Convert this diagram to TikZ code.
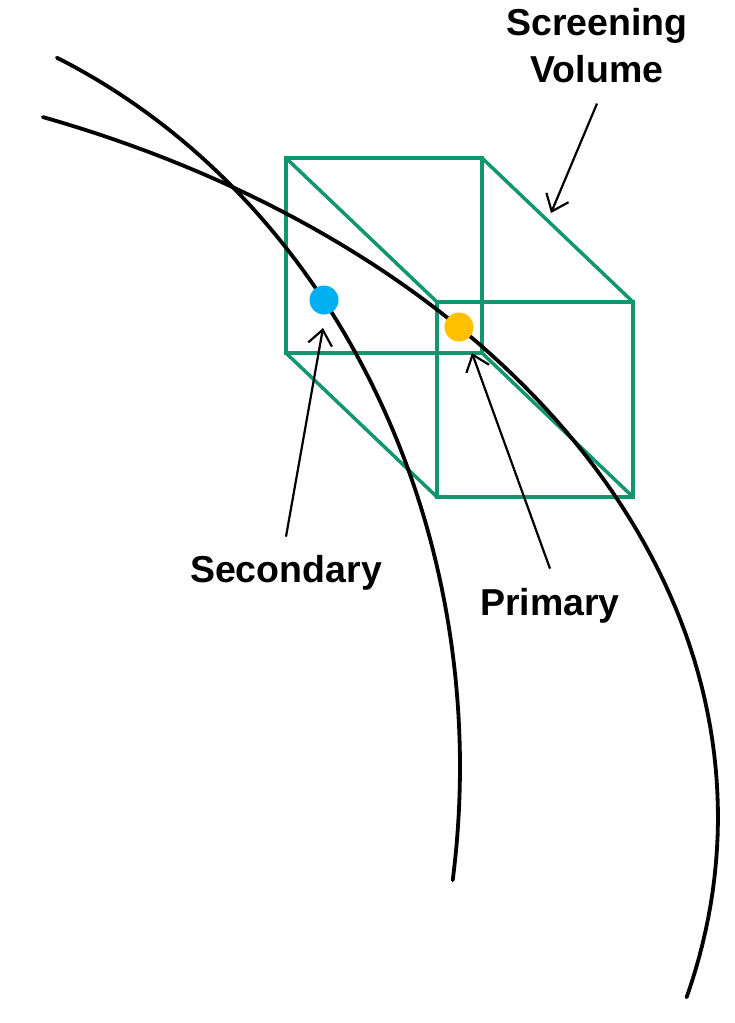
\documentclass[tikz,border=0pt]{standalone}
\usepackage{fontspec}
\setmainfont{Liberation Sans}
\usetikzlibrary{positioning, arrows.meta}
\definecolor{boxgreen}{RGB}{18,150,112}
\definecolor{secblue}{RGB}{0,176,240}
\definecolor{primorange}{RGB}{255,192,0}
\tikzset{
  orbit1/.style = {
    draw = black, line width = 3.8pt, line cap = round,
    variable = \t, samples = 80,
  }
}
\tikzset{
  edge1/.style = {
    draw = boxgreen, line width = 3.5pt, line join = miter,
  }
}
\tikzset{
  dot1/.style = {
    shape = circle,
    inner sep = 0pt,
    minimum size = 29pt,
  }
}
\tikzset{
  label1/.style = {
    align = center,
    inner sep = 0pt,
    font = \fontsize{37.5}{47}\selectfont\bfseries,
  }
}
\tikzset{
  arrow1/.style = {
    draw = black, line width = 2.2pt, -{Straight Barb[length = 15pt, width = 24pt, line width = 2.2pt]},
  }
}

\begin{document}
\begin{tikzpicture}[x = 1pt, y = -1pt]
        \useasboundingbox (0,0) rectangle (734,1023);
        % cube corners
        \coordinate (b1) at (286,158);
        \coordinate (b2) at (482,158);
        \coordinate (b3) at (482,353);
        \coordinate (b4) at (286,353);
        \coordinate (f1) at (437,302);
        \coordinate (f2) at (633,302);
        \coordinate (f3) at (633,497);
        \coordinate (f4) at (437,497);
        \draw[edge1](b1) -- (b2) -- (b3) -- (b4) -- cycle;
        \draw[edge1](f1) -- (f2) -- (f3) -- (f4) -- cycle;
        \draw[edge1](b1) -- (f1);
        \draw[edge1](b2) -- (f2);
        \draw[edge1](b3) -- (f3);
        \draw[edge1](b4) -- (f4);
        % orbits, elliptic arcs
        \draw[orbit1] plot[domain = 66.25:-8.4] ({-215+675*cos(\t)}, {767-775*sin(\t)});
        \draw[orbit1] plot[domain = 67.7:-13.8] ({-370+1088*cos(\t)}, {817-756.6*sin(\t)});
        % objects
        \node[dot1, fill = secblue](secdot) at (324,300){};
        \node[dot1, fill = primorange](primdot) at (459,327){};
        % labels
        \node[label1, anchor = base](svlabel) at (597,82){Screening\\Volume};
        \node[label1, anchor = base](seclabel) at (286,582){Secondary};
        \node[label1, anchor = base](primlabel) at (550,615){Primary};
        \coordinate (svtip) at (551,213);
        \coordinate (sectip) at (323,328);
        \coordinate (primtip) at (472,353);
        \draw[arrow1]([yshift = -21pt]svlabel.south) -- (svtip);
        \draw[arrow1]([yshift = 18pt]seclabel.north) -- (sectip);
        \draw[arrow1]([yshift = 19pt]primlabel.north) -- (primtip);
    \end{tikzpicture}
\end{document}
